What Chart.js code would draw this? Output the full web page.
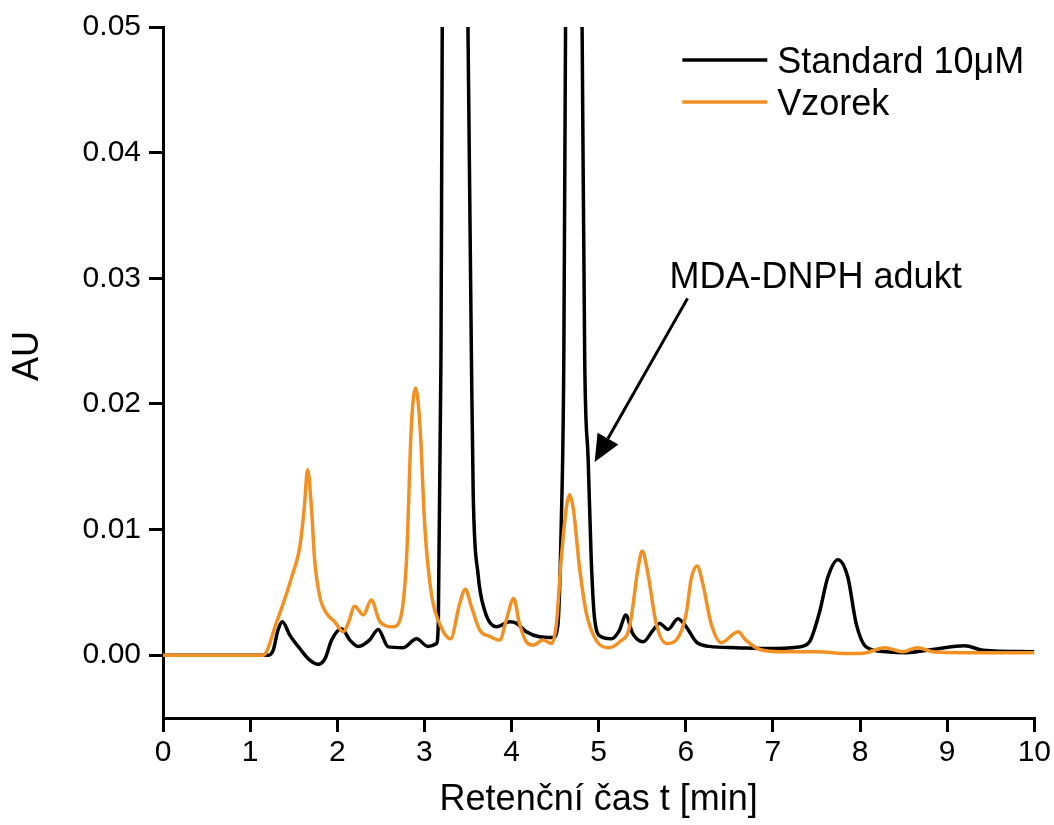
<!DOCTYPE html>
<html><head><meta charset="utf-8">
<script src="https://cdn.jsdelivr.net/npm/chart.js@4.4.1/dist/chart.umd.min.js"></script>
<style>html,body{margin:0;padding:0;background:#fff}#wrap{width:1054px;height:825px}</style>
</head><body><div id="wrap"><canvas id="c" width="1054" height="825"></canvas></div>
<script>
// ---- data (retention time in min, absorbance in AU) ----
const stdTime = [0, 1.0, 1.21, 1.265, 1.32, 1.37, 1.455, 1.57, 1.685, 1.78, 1.86, 1.935, 2.05, 2.145, 2.24, 2.37, 2.47, 2.585, 2.755, 2.91, 3.04, 3.14, 3.16, 3.19, 3.205, 3.35, 3.50, 3.54, 3.56, 3.615, 3.69, 3.83, 3.98, 4.06, 4.17, 4.32, 4.475, 4.53, 4.57, 4.60, 4.62, 4.72, 4.81, 4.84, 4.88, 4.915, 4.955, 5.03, 5.145, 5.24, 5.31, 5.39, 5.51, 5.625, 5.70, 5.795, 5.91, 6.005, 6.12, 6.27, 6.58, 6.92, 7.30, 7.42, 7.53, 7.63, 7.745, 7.86, 7.955, 8.07, 8.30, 8.53, 8.83, 9.20, 9.41, 10.0];
const stdAU = [0, 0, 0, 0.0004, 0.002, 0.00266, 0.0016, 0.00053, -0.0004, -0.00072, -0.00027, 0.0012, 0.0021, 0.0012, 0.0007, 0.0012, 0.00205, 0.00066, 0.0006, 0.0013, 0.0007, 0.00093, 0.0027, 0.0235, 0.05, 0.16, 0.05, 0.0235, 0.0129, 0.0065, 0.0036, 0.00226, 0.00266, 0.00253, 0.00186, 0.00146, 0.0014, 0.00226, 0.0102, 0.0235, 0.05, 0.12, 0.05, 0.0235, 0.0155, 0.0076, 0.0028, 0.00146, 0.0013, 0.002, 0.0032, 0.00173, 0.00106, 0.002, 0.00253, 0.00205, 0.0029, 0.00226, 0.00106, 0.0007, 0.0006, 0.00053, 0.00066, 0.00106, 0.0033, 0.0062, 0.0076, 0.0062, 0.00253, 0.00066, 0.00027, 0.0002, 0.00045, 0.00075, 0.0004, 0.00027];
const vzTime = [0, 1.0, 1.15, 1.30, 1.49, 1.57, 1.62, 1.66, 1.705, 1.74, 1.80, 1.88, 1.97, 2.07, 2.125, 2.20, 2.30, 2.39, 2.49, 2.64, 2.72, 2.795, 2.85, 2.90, 2.95, 3.005, 3.08, 3.19, 3.30, 3.405, 3.47, 3.54, 3.635, 3.75, 3.865, 3.94, 4.025, 4.09, 4.17, 4.25, 4.36, 4.46, 4.515, 4.57, 4.63, 4.667, 4.71, 4.78, 4.86, 4.97, 5.11, 5.24, 5.355, 5.45, 5.50, 5.565, 5.66, 5.78, 5.89, 6.005, 6.06, 6.13, 6.195, 6.29, 6.41, 6.55, 6.60, 6.69, 6.85, 7.11, 7.50, 7.88, 8.07, 8.28, 8.49, 8.66, 8.83, 9.22, 10.0];
const vzAU = [0, 0, 0, 0.00255, 0.0065, 0.0086, 0.0116, 0.01475, 0.0116, 0.0076, 0.00465, 0.0033, 0.00266, 0.00186, 0.00253, 0.0039, 0.0032, 0.0044, 0.00266, 0.00226, 0.0028, 0.0076, 0.0182, 0.02127, 0.0182, 0.0102, 0.0049, 0.00226, 0.0013, 0.0041, 0.00524, 0.00385, 0.002, 0.0015, 0.0012, 0.0028, 0.00452, 0.00253, 0.00106, 0.0008, 0.0012, 0.00093, 0.0025, 0.0076, 0.0118, 0.01276, 0.0116, 0.007, 0.0033, 0.0012, 0.0006, 0.00106, 0.00226, 0.0068, 0.0083, 0.0065, 0.00253, 0.00093, 0.0012, 0.0033, 0.006, 0.0071, 0.0057, 0.00253, 0.001, 0.0017, 0.00186, 0.0012, 0.00045, 0.00027, 0.00027, 0.00013, 0.0002, 0.0006, 0.00027, 0.0006, 0.00027, 0.0002, 0.0002];
const seriesNames = ['Standard 10\u03bcM', 'Vzorek'];
const xTicks = [0, 1, 2, 3, 4, 5, 6, 7, 8, 9, 10];
const yTicks = [0, 0.01, 0.02, 0.03, 0.04, 0.05];
const xTitle = 'Retenční čas t [min]';
const yTitle = 'AU';
const noteText = 'MDA-DNPH adukt';
const noteAt = [5.814, 0.02922];
const arrowFrom = [6.02, 0.0284];
const arrowTo = [4.954, 0.01537];

const FONT = "'Liberation Sans', Arial, sans-serif";
const ORANGE = 'rgb(242,145,35)';
const COLORS = ['#000000', ORANGE];

const overlay = {
  id: 'overlay',
  afterDraw(chart) {
    const {ctx, chartArea: a, scales: {x, y}} = chart;
    ctx.save();
    ctx.fillStyle = '#000';
    // y-axis title
    ctx.save();
    ctx.translate(28, 356);
    ctx.rotate(-Math.PI / 2);
    ctx.font = '36px ' + FONT;
    ctx.textAlign = 'center';
    ctx.textBaseline = 'middle';
    ctx.fillText(yTitle, 0, 0);
    ctx.restore();
    // legend
    ctx.font = '36px ' + FONT;
    ctx.textAlign = 'left';
    ctx.textBaseline = 'alphabetic';
    seriesNames.forEach((name, i) => {
      const ly = a.top + 33 + i * 42;
      ctx.strokeStyle = COLORS[i];
      ctx.lineWidth = 3.5;
      ctx.beginPath();
      ctx.moveTo(a.right - 352, ly);
      ctx.lineTo(a.right - 267, ly);
      ctx.stroke();
      ctx.fillStyle = '#000';
      ctx.fillText(name, a.right - 257, ly + 12.5);
    });
    // annotation
    ctx.font = '36px ' + FONT;
    ctx.fillText(noteText, x.getPixelForValue(noteAt[0]), y.getPixelForValue(noteAt[1]));
    const x0 = x.getPixelForValue(arrowFrom[0]), y0 = y.getPixelForValue(arrowFrom[1]);
    const x1 = x.getPixelForValue(arrowTo[0]), y1 = y.getPixelForValue(arrowTo[1]);
    const ang = Math.atan2(y1 - y0, x1 - x0);
    const hl = 27, hw = 12;
    const bx = x1 - hl * Math.cos(ang), by = y1 - hl * Math.sin(ang);
    ctx.strokeStyle = '#000';
    ctx.lineWidth = 3;
    ctx.beginPath();
    ctx.moveTo(x0, y0);
    ctx.lineTo(bx, by);
    ctx.stroke();
    ctx.beginPath();
    ctx.moveTo(x1, y1);
    ctx.lineTo(bx + hw * Math.sin(ang), by - hw * Math.cos(ang));
    ctx.lineTo(bx - hw * Math.sin(ang), by + hw * Math.cos(ang));
    ctx.closePath();
    ctx.fill();
    ctx.restore();
  }
};

const axisGrid = {display: true, drawOnChartArea: false, drawTicks: true, tickLength: 14, color: '#000', lineWidth: 3};
const axisBorder = {display: true, color: '#000', width: 3};

new Chart(document.getElementById('c').getContext('2d'), {
  type: 'line',
  data: {
    datasets: [
      {label: seriesNames[0], data: stdTime.map((t, i) => ({x: t, y: stdAU[i]})), borderColor: COLORS[0], borderWidth: 3.5, pointRadius: 0, cubicInterpolationMode: 'monotone', order: 1},
      {label: seriesNames[1], data: vzTime.map((t, i) => ({x: t, y: vzAU[i]})), borderColor: COLORS[1], borderWidth: 3.5, pointRadius: 0, cubicInterpolationMode: 'monotone', order: 0}
    ]
  },
  options: {
    responsive: false,
    animation: false,
    layout: {padding: {top: 27, right: 19, left: 0, bottom: 0}},
    plugins: {legend: {display: false}, tooltip: {enabled: false}},
    scales: {
      x: {
        type: 'linear', min: 0, max: 10,
        afterBuildTicks: s => { s.ticks = xTicks.map(v => ({value: v})); },
        afterFit: s => { s.height = 107; },
        ticks: {font: {family: FONT, size: 30}, color: '#000', padding: 3, maxRotation: 0, callback: v => String(v)},
        grid: axisGrid, border: axisBorder,
        title: {display: true, text: xTitle, font: {family: FONT, size: 36}, color: '#000', padding: {top: 0, bottom: 3}}
      },
      y: {
        type: 'linear', min: -0.005, max: 0.05,
        afterBuildTicks: s => { s.ticks = yTicks.map(v => ({value: v})); },
        afterFit: s => { s.width = 163; },
        ticks: {font: {family: FONT, size: 30}, color: '#000', padding: 8, callback: v => Number(v).toFixed(2)},
        grid: axisGrid, border: axisBorder
      }
    }
  },
  plugins: [overlay]
});
</script></body></html>
